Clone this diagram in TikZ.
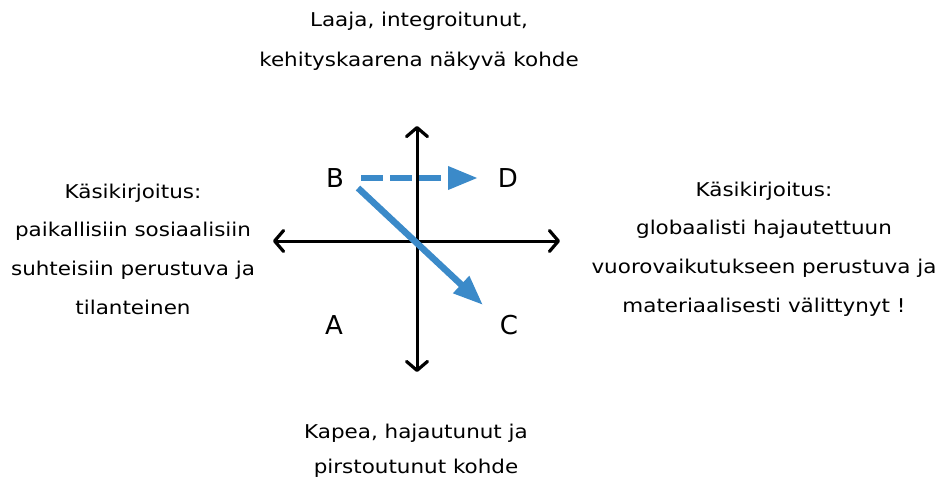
\documentclass[tikz,border=0pt]{standalone}
\usepackage{fontspec}
\setmainfont{DejaVu Sans}
\newfontfamily\widesans[FakeStretch=1.13]{DejaVu Sans}
\usepackage{tikz}
\usetikzlibrary{positioning, arrows.meta}
\definecolor{shiftblue}{RGB}{59,138,201}

\begin{document}
\begin{tikzpicture}[
        x=1pt, y=-1pt,
        axis/.style={{Straight Barb[length=9pt, width=21pt, line width=3.2pt, round]}-{Straight Barb[length=9pt, width=21pt, line width=3.2pt, round]}, line width=3pt, black},
        move/.style={-{Triangle[length=30pt, width=22pt]}, color=shiftblue, line width=6.5pt},
        corner/.style={font=\fontsize{26}{30}\selectfont, inner sep=0pt},
        caption/.style={font=\widesans\fontsize{19}{38.7}\selectfont, align=center, inner sep=0pt}
        ]
        \useasboundingbox (0,0) rectangle (940,479);

        % Axis end points
        \coordinate (west) at (273,241);
        \coordinate (east) at (560,241);
        \coordinate (north) at (417,126);
        \coordinate (south) at (417,372);

        \draw[axis] (west) -- (east);
        \draw[axis] (north) -- (south);

        % Quadrant letters
        \node[corner] (B) at (335,178) {B};
        \node[corner] (D) at (508,178) {D};
        \node[corner] (A) at (334,325) {A};
        \node[corner] (C) at (509,325) {C};

        % Movements
        \draw[move, dash pattern=on 22pt off 7pt, shorten <=26pt, shorten >=30pt] (B.center) -- (D.center);
        \draw[move] ([shift={(23,10)}]B.center) -- ([shift={(-26,-20)}]C.center);

        % Axis captions
        \node[caption, font=\widesans\fontsize{19}{40}\selectfont] (top) at (419,41) {Laaja, integroitunut,\\kehityskaarena näkyvä kohde};
        \node[caption, font=\widesans\fontsize{19}{35}\selectfont] (bottom) at (416,451) {Kapea, hajautunut ja\\pirstoutunut kohde};
        \node[caption] (left) at (133,249) {Käsikirjoitus:\\paikallisiin sosiaalisiin\\suhteisiin perustuva ja\\tilanteinen};
        \node[caption] (right) at (764,249) {Käsikirjoitus:\\globaalisti hajautettuun\\vuorovaikutukseen perustuva ja\\materiaalisesti välittynyt !};

    \end{tikzpicture}
\end{document}
